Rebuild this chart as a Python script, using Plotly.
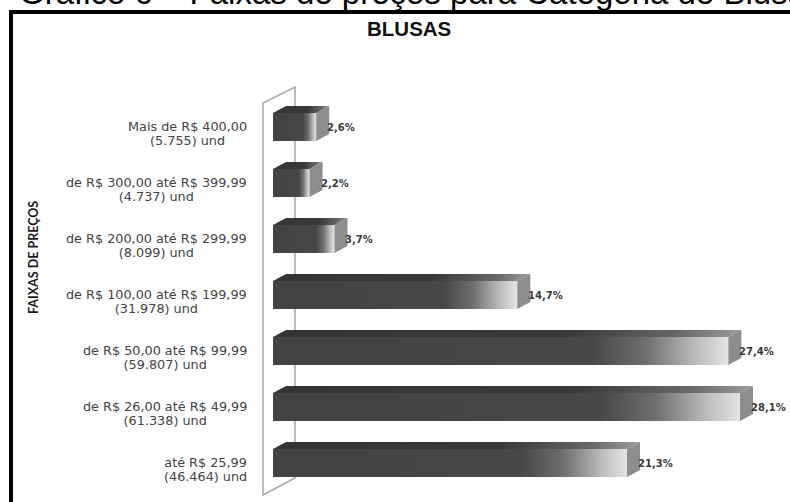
import plotly.graph_objects as go

# Price ranges (bottom to top), units sold and share of units (%)
faixas = [
    "até R$ 25,99",
    "de R$ 26,00 até R$ 49,99",
    "de R$ 50,00 até R$ 99,99",
    "de R$ 100,00 até R$ 199,99",
    "de R$ 200,00 até R$ 299,99",
    "de R$ 300,00 até R$ 399,99",
    "Mais de R$ 400,00",
]
unidades = ["46.464", "61.338", "59.807", "31.978", "8.099", "4.737", "5.755"]
percentuais = [21.3, 28.1, 27.4, 14.7, 3.7, 2.2, 2.6]

W, H = 790, 502

# Axis geometry: value 0 sits at px 273, category i is centred at py 463 - 56*i
X0_PX, PX_PER_PCT = 273, 16.62
Y0_PX, PX_PER_CAT = 463, 56
x_range = [-X0_PX / PX_PER_PCT, (W - X0_PX) / PX_PER_PCT]
y_range = [(Y0_PX - H) / PX_PER_CAT, Y0_PX / PX_PER_CAT]


def dx_px(px):
    return px / PX_PER_PCT


def dy_px(px):
    return px / PX_PER_CAT


def xdata(px):
    return (px - X0_PX) / PX_PER_PCT


def ydata(py):
    return (Y0_PX - py) / PX_PER_CAT


HALF = dy_px(14)      # half of the bar thickness
DEPTH_X = dx_px(13)   # 3-D depth offset
DEPTH_Y = dy_px(7)

FRONT_SCALE = [[0, "#434343"], [0.70, "#474747"], [0.82, "#6f6f6f"],
               [0.93, "#bdbdbd"], [1, "#e4e4e4"]]
TOP_SCALE = [[0, "#343434"], [0.62, "#393939"], [0.86, "#666666"], [1, "#9c9c9c"]]
SIDE_COLOR = "#8d8d8d"

fig = go.Figure()

for i, v in enumerate(percentuais):
    y0, y1 = i - HALF, i + HALF
    # front face
    fig.add_trace(go.Scatter(
        x=[0, v, v, 0, 0], y=[y0, y0, y1, y1, y0],
        mode="lines", line=dict(width=0), fill="toself",
        fillgradient=dict(type="horizontal", colorscale=FRONT_SCALE),
        hoverinfo="skip"))
    # top face
    fig.add_trace(go.Scatter(
        x=[0, DEPTH_X, v + DEPTH_X, v, 0],
        y=[y1, y1 + DEPTH_Y, y1 + DEPTH_Y, y1, y1],
        mode="lines", line=dict(width=0), fill="toself",
        fillgradient=dict(type="horizontal", colorscale=TOP_SCALE),
        hoverinfo="skip"))
    # right side face
    fig.add_trace(go.Scatter(
        x=[v, v + DEPTH_X, v + DEPTH_X, v, v],
        y=[y0, y0 + DEPTH_Y, y1 + DEPTH_Y, y1, y0],
        mode="lines", line=dict(width=0), fill="toself",
        fillcolor=SIDE_COLOR, hoverinfo="skip"))

annotations = []

# value labels
for i, v in enumerate(percentuais):
    annotations.append(dict(
        x=v + dx_px(9), y=i, xref="x", yref="y",
        text=f"{v:.1f}%".replace(".", ","), showarrow=False,
        xanchor="left", yanchor="middle",
        font=dict(family="DejaVu Sans", size=10, color="#3a3a3a", weight="bold")))

# category labels
for i, (f, u) in enumerate(zip(faixas, unidades)):
    annotations.append(dict(
        x=xdata(249), y=i - dy_px(6.5), xref="x", yref="y",
        text=(f"<span style='font-size:12.8px'>{f}</span><br>"
              f"<span style='font-size:12.8px'>({u}) und</span>"),
        showarrow=False, xanchor="right", yanchor="middle", align="center",
        font=dict(family="DejaVu Sans", size=10.4, color="#444444")))

# axis title
annotations.append(dict(
    x=33 / W, y=1 - 258 / H, xref="paper", yref="paper",
    text="FAIXAS DE PREÇOS", textangle=-90, showarrow=False,
    xanchor="center", yanchor="middle",
    font=dict(family="Lato", size=12.5, color="#1a1a1a", weight="bold")))

# chart title
annotations.append(dict(
    x=409 / W, y=1 - 29 / H, xref="paper", yref="paper",
    text="BLUSAS", showarrow=False, xanchor="center", yanchor="middle",
    font=dict(family="Arial, Liberation Sans", size=20.5, color="#111111",
              weight="bold")))

# document heading above the framed chart
annotations.append(dict(
    x=17 / W, y=1 - 13 / H, xref="paper", yref="paper",
    text="Gráfico 6 – Faixas de preços para Categoria de Blusas",
    showarrow=False, xanchor="left", yanchor="bottom",
    font=dict(family="Arial, Liberation Sans", size=33, color="#000000")))

shapes = [
    # back wall of the category axis
    dict(type="path", xref="x", yref="y", layer="below",
         path=(f"M {xdata(263)},{ydata(495)} L {xdata(263)},{ydata(103)} "
               f"L {xdata(295)},{ydata(87)} L {xdata(295)},{ydata(478)} Z"),
         line=dict(color="#a8a8a8", width=1.5), fillcolor="rgba(0,0,0,0)"),
    # black frame (left and top edges)
    dict(type="path", xref="paper", yref="paper",
         path=f"M {11 / W},-0.05 L {11 / W},{1 - 12 / H} L 1.05,{1 - 12 / H}",
         line=dict(color="#000000", width=4)),
]

fig.update_layout(
    width=W, height=H,
    margin=dict(l=0, r=0, t=0, b=0, pad=0),
    paper_bgcolor="#ffffff", plot_bgcolor="#ffffff",
    showlegend=False,
    xaxis=dict(range=x_range, visible=False, fixedrange=True),
    yaxis=dict(range=y_range, visible=False, fixedrange=True),
    annotations=annotations, shapes=shapes,
)

fig.write_html("out.html")
